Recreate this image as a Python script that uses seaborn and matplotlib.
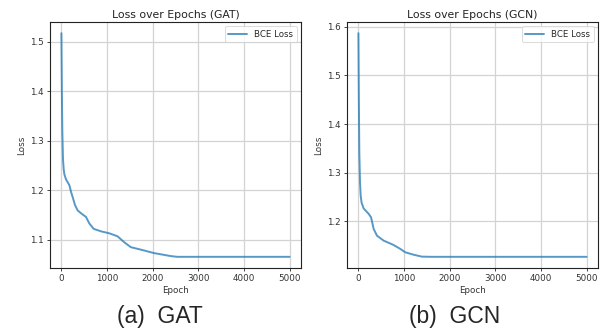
import matplotlib
matplotlib.use("Agg")
import matplotlib.pyplot as plt
import pandas as pd
import seaborn as sns

# GAT training loss
gat_epoch = [0, 10, 20, 35, 50, 65, 100, 175, 210, 250, 298, 357, 450, 539,
             611, 706, 866, 1048, 1229, 1376, 1520, 1740, 2031, 2395, 2540,
             3000, 4000, 5000]
gat_loss = [1.517, 1.40, 1.32, 1.262, 1.242, 1.232, 1.222, 1.210, 1.197,
            1.185, 1.170, 1.159, 1.152, 1.146, 1.133, 1.122, 1.117, 1.113,
            1.107, 1.095, 1.085, 1.080, 1.073, 1.067, 1.0655, 1.0655, 1.0655,
            1.0655]

# GCN training loss
gcn_epoch = [0, 10, 20, 35, 50, 70, 116, 225, 277, 334, 408, 552, 770, 916,
             1025, 1206, 1389, 1600, 2000, 3000, 4000, 5000]
gcn_loss = [1.587, 1.45, 1.34, 1.28, 1.252, 1.238, 1.226, 1.215, 1.208,
            1.184, 1.170, 1.160, 1.151, 1.143, 1.136, 1.131, 1.127, 1.1266,
            1.1266, 1.1266, 1.1266, 1.1266]

panels = [
    ("Loss over Epochs (GAT)", "(a)  GAT", gat_epoch, gat_loss),
    ("Loss over Epochs (GCN)", "(b)  GCN", gcn_epoch, gcn_loss),
]

sns.set_theme(style="ticks")
plt.rcParams["font.family"] = ["DejaVu Sans"]

W, H = 609, 333
fig = plt.figure(figsize=(W / 100, H / 100), dpi=100)

lefts = [50, 347]
caption_x = [160, 455]
for i, (title, caption, ep, loss) in enumerate(panels):
    ax = fig.add_axes([lefts[i] / W, 1 - 268 / H, 251 / W, 246 / H])
    df = pd.DataFrame({"Epoch": ep, "Loss": loss})
    sns.lineplot(data=df, x="Epoch", y="Loss", ax=ax, color="#1f77b4",
                 alpha=0.75, linewidth=1.4, label="BCE Loss")
    ax.set_xticks([0, 1000, 2000, 3000, 4000, 5000])
    ax.grid(True, color="#d3d3d3", linewidth=0.9)
    ax.set_title(title, fontsize=7.8, pad=3, color="#222222")
    ax.set_xlabel("Epoch", fontsize=6.3, labelpad=2, color="#333333")
    ax.set_ylabel("Loss", fontsize=6.3, labelpad=3, color="#333333")
    ax.tick_params(labelsize=6.3, length=2.5, width=0.6, pad=2,
                   labelcolor="#333333")
    for s in ax.spines.values():
        s.set_color("#222222")
        s.set_linewidth(0.8)
    leg = ax.legend(loc="upper right", fontsize=6.2, frameon=True,
                    handlelength=2.2, borderpad=0.4)
    leg.get_frame().set_linewidth(0.6)
    fig.text(caption_x[i] / W, 1 - 317 / H, caption, ha="center",
             va="center", fontsize=16.5,
             family=["Liberation Sans Narrow", "Liberation Sans", "DejaVu Sans"])

fig.savefig("out.png", dpi=100)
